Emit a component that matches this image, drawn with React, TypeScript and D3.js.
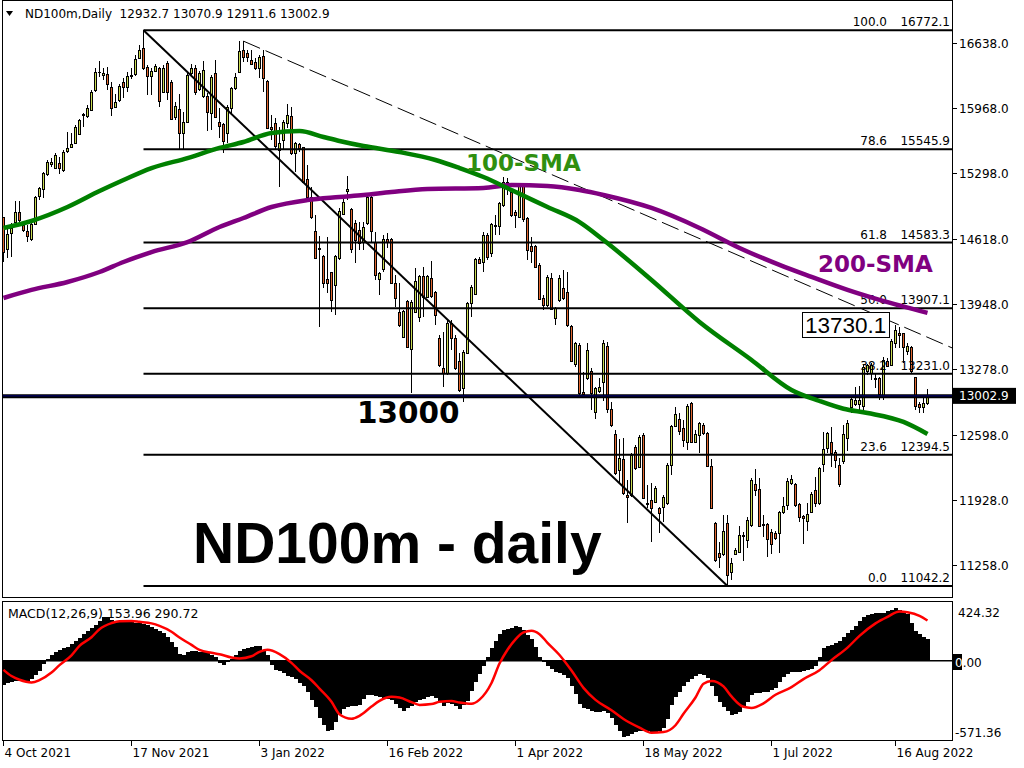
import React from "react";
import * as d3 from "d3";

// ---------- price data (daily candles, bar 0 = 4 Oct 2021) ----------
const opens = [
  14844,14517,14678,14799,14902,14764,14703,14617,14775,15067,
  15132,15287,15390,15356,15400,15332,15531,15569,15607,15703,
  15900,15892,15954,16153,16345,16311,16318,16187,15981,16050,
  16235,16184,16304,16318,16490,16593,16397,16301,16356,16387,
  16132,16431,16236,15881,15957,15710,15830,16328,16380,16167,
  16098,16095,15916,16328,15823,15806,15710,15967,16181,16345,
  16569,16535,16466,16442,16380,16507,16253,15775,15813,15538,
  15641,15820,15888,15503,15596,15565,15235,15057,14703,14524,
  14445,14204,14276,14146,14421,14878,15115,14926,14782,14713,
  14593,14782,15057,14593,14204,14308,14617,14617,14170,13871,
  13613,13981,13483,13871,13820,14239,14019,14215,14077,13596,
  13287,13235,13751,13596,13366,13080,13448,13957,14053,14411,
  14387,14661,14472,14754,14754,14971,15211,15108,14902,14844,
  15177,14833,14548,14548,14352,14008,13940,14215,13802,13991,
  14112,14077,13723,13331,13527,13039,13184,13263,12840,13056,
  13149,13520,12864,12610,12239,12349,11981,11981,12472,12266,
  12600,11902,11929,11912,11850,11854,11902,12290,12692,12761,
  12668,12531,12926,12531,12600,12703,12617,12280,11696,11379,
  11372,11689,11190,11369,11397,11565,11517,11671,12094,12043,
  11682,11678,11603,11586,11592,11802,11878,12101,12091,11885,
  11768,11713,11809,12032,11895,12300,12462,12531,12428,12290,
  12330,12565,12885,12916,12916,12898,13263,13235,13191,13184,
  13012,13366,13321,13545,13655,13648,13469,13510,13194,12919,
  12885,12932.7,
];
const highs = [
  14850,14764,14782,15012,15012,14799,14764,14782,15067,15160,
  15314,15435,15452,15503,15469,15538,15720,15710,15796,15858,
  15916,16002,16157,16380,16455,16387,16390,16242,16112,16215,
  16277,16345,16387,16517,16620,16772.1,16414,16380,16421,16397,
  16414,16455,16260,16036,16112,15926,16328,16421,16414,16352,
  16455,16122,16311,16466,15967,15813,16002,16191,16328,16662,
  16662,16569,16569,16483,16517,16569,16260,15899,15864,15778,
  15847,16009,15985,15620,15613,15572,15383,15160,14868,14651,
  14455,14644,14283,14455,14936,15039,15270,14936,14816,14799,
  14799,15064,15064,14696,14283,14662,14679,14627,14249,14163,
  13888,13991,13991,14318,14249,14335,14249,14397,14087,13630,
  13665,13785,13785,13630,13448,13476,13975,14146,14420,14438,
  14696,14685,14789,14868,15005,15263,15246,15125,14919,15194,
  15194,14850,14644,14558,14369,14043,14249,14266,13922,14249,
  14301,14283,13733,13562,13545,13252,13551,13287,13098,13184,
  13579,13560,12943,12651,12555,12565,12135,12410,12497,12600,
  12617,12084,12108,12074,11860,11981,12307,12703,12892,12823,
  12754,12919,12943,12651,12737,12727,12634,12349,11706,11500,
  11775,11775,11328,11431,11661,11603,11751,12153,12245,12153,
  11775,11688,11627,11613,11819,11964,12153,12187,12101,11895,
  11775,11895,12015,12170,12273,12634,12634,12679,12445,12359,
  12700,12754,12995,13091,13105,13321,13331,13338,13235,13194,
  13407,13390,13586,13730.1,13716,13655,13551,13517,13201,12943,
  12995,13070.9,
];
const lows = [
  14380,14421,14431,14764,14799,14696,14593,14600,14764,15022,
  15039,15270,15366,15342,15287,15314,15503,15555,15596,15692,
  15772,15871,15940,16139,16294,16260,16157,15892,15967,16036,
  16077,16139,16270,16304,16476,16363,16105,16105,16345,15985,
  16122,16053,15847,15847,15548,15548,15813,16311,16105,16146,
  16077,15734,15744,15864,15658,15503,15607,15899,16157,16328,
  16449,16449,16414,16363,16277,16139,15761,15641,15538,15160,
  15538,15761,15486,15314,15521,15194,15039,14823,14410,13716,
  14111,14060,13871,13836,14404,14868,15022,14472,14369,14507,
  14507,14765,14593,14198,14043,14283,14524,14156,13923,13716,
  13596,13493,13029,13854,13768,13820,14008,14008,13733,13304,
  13098,13218,13476,13270,13046,12943,13440,13819,14043,14362,
  14283,14404,14438,14661,14661,14954,15074,14850,14730,14833,
  14799,14404,14369,14318,13991,13888,13923,13888,13733,13974,
  13991,13716,13356,13304,13012,12995,13166,12857,12761,13029,
  12950,12830,12685,12187,12101,11981,11696,11964,12239,12256,
  11936,11843,11500,11895,11586,11706,11878,12187,12685,12600,
  12479,12445,12514,12514,12417,12600,12266,11833,11293,11225,
  11352,11042.2,11104,11362,11380,11304,11431,11654,11971,11654,
  11551,11345,11373,11514,11379,11785,11826,12084,11860,11706,
  11476,11613,11799,11860,11878,12221,12410,12273,12256,12067,
  12300,12438,12823,12899,12823,12857,13218,13166,13081,12960,
  12960,13300,13311,13493,13493,13338,13424,13242,12857,12823,
  12823,12911.6,
];
const closes = [
  14489,14668,14730,14895,14816,14713,14654,14771,15050,15143,
  15297,15411,15418,15486,15349,15514,15555,15600,15772,15847,
  15910,15967,16132,16339,16339,16328,16215,15974,16029,16198,
  16184,16301,16311,16476,16569,16380,16301,16356,16404,16043,
  16380,16139,15857,15992,15710,15830,16311,16380,16139,16335,
  16363,15933,16294,15875,15789,15634,15978,16174,16294,16562,
  16500,16493,16425,16380,16500,16277,15768,15758,15579,15607,
  15823,15899,15503,15607,15562,15211,15057,14843,14421,14513,
  14163,14163,13991,14445,14912,15005,15132,14513,14610,14582,
  14740,15050,14706,14249,14266,14617,14593,14170,14008,13733,
  13878,13510,13974,14191,14239,14026,14239,14032,13837,13321,
  13242,13751,13596,13287,13063,13458,13957,14129,14411,14369,
  14661,14438,14772,14761,14988,15211,15177,14868,14868,15177,
  14823,14507,14500,14335,13998,13940,14232,13898,13905,14215,
  14008,13733,13366,13545,13029,13018,13476,13029,13080,13098,
  13551,12864,12703,12204,12359,11998,11957,12393,12256,12575,
  11946,11888,11843,12050,11792,11964,12290,12692,12816,12644,
  12548,12899,12531,12610,12720,12624,12280,11843,11311,11338,
  11613,11156,11276,11414,11568,11558,11723,12135,12032,11661,
  11675,11524,11472,11541,11802,11867,12129,12142,11878,11757,
  11740,11785,11991,11895,12256,12452,12624,12417,12342,12094,
  12605,12727,12967,12960,12960,13304,13321,13321,13177,13022,
  13373,13311,13572,13682,13631,13510,13517,13263,12898,12885,
  12926,13002.9,
];

// ---------- moving averages ----------
const sma100Bars = [0,7,16,24,30,37,46,54,60,67,74,80,84,90,99,108,114,120,127,136,144,150,162,174,187,197,204,210,216,225,231];
const sma100Vals = [14734,14806,14950,15115,15229,15352,15455,15559,15620,15713,15734,15672,15631,15579,15517,15435,15352,15259,15125,14950,14795,14610,14198,13765,13373,13064,12950,12870,12826,12734,12610];
const sma200Bars = [0,7,16,24,30,37,46,54,60,67,76,84,90,97,106,120,127,136,144,150,162,174,184,194,202,211,219,231];
const sma200Vals = [14012,14095,14177,14280,14383,14486,14589,14744,14837,14950,15022,15053,15074,15105,15136,15146,15177,15167,15125,15074,14940,14734,14528,14353,14229,14095,13992,13858];

// ---------- MACD(12,26,9) ----------
const macdHist = [
  -176,-160,-150,-146,-144,-144,-144,-130,-105,-70,
  -25,15,45,62,78,92,103,118,140,165,
  192,214,235,258,285,315,318,295,281,281,
  281,281,280,276,272,265,258,245,232,218,
  204,175,135,100,50,40,60,72,70,67,
  62,55,42,25,-15,-30,-12,10,45,70,
  84,92,100,106,108,78,40,-30,-65,-75,
  -85,-110,-120,-132,-160,-185,-225,-280,-330,-410,
  -460,-505,-500,-440,-385,-345,-332,-329,-325,-320,
  -275,-250,-245,-257,-262,-265,-272,-280,-315,-340,
  -361,-340,-325,-300,-285,-272,-262,-252,-270,-290,
  -325,-305,-310,-325,-349,-320,-289,-215,-150,-95,
  -40,30,90,140,195,220,232,238,250,245,
  220,185,155,100,30,-5,-40,-62,-80,-90,
  -100,-125,-180,-240,-310,-338,-348,-365,-370,-370,
  -360,-380,-410,-465,-510,-550,-545,-530,-515,-505,
  -507,-510,-518,-513,-507,-485,-420,-320,-262,-225,
  -185,-155,-128,-112,-98,-100,-125,-180,-255,-300,
  -330,-365,-390,-385,-370,-335,-300,-250,-232,-232,
  -228,-222,-210,-195,-155,-120,-95,-78,-82,-80,
  -75,-68,-57,-40,30,95,110,117,128,140,
  175,200,220,250,290,315,330,337,342,342,
  342,358,370,380,370,360,340,270,217,195,
  170,153.96,
];
const signalBars = [0,2,4,7,9,12,14,17,19,22,24,27,29,32,34,37,39,42,44,47,49,52,54,57,59,62,64,66,69,72,74,77,79,82,84,87,89,92,94,97,99,102,104,107,109,112,114,117,119,122,124,126,128,130,132,134,136,139,142,145,148,152,155,159,162,165,168,170,173,175,177,180,182,185,187,190,193,197,200,204,207,211,214,218,221,224,226,229,231];
const signalVals = [-65,-110,-137,-156,-139,-85,-31,40,108,170,228,272,286,287,281,270,252,210,168,115,79,58,48,24,17,33,65,79,48,-15,-72,-140,-200,-295,-385,-418,-397,-330,-289,-260,-265,-298,-318,-312,-296,-290,-301,-310,-280,-160,-20,80,155,205,217,192,130,42,-70,-195,-282,-357,-420,-482,-519,-514,-465,-382,-265,-165,-145,-185,-257,-332,-340,-307,-245,-190,-132,-68,5,95,180,270,317,355,350,325,290.72];

// ---------- axes / annotations ----------
const priceTicks = [16638, 15968, 15298, 14618, 13948, 13278, 12598, 11928, 11258];
const dateLabels = ["4 Oct 2021", "17 Nov 2021", "3 Jan 2022", "16 Feb 2022", "1 Apr 2022", "18 May 2022", "1 Jul 2022", "16 Aug 2022"];
const dateBars = [0, 32, 64, 96, 128, 160, 192, 223];
const fibPcts = ["100.0", "78.6", "61.8", "50.0", "38.2", "23.6", "0.0"];
const fibPrices = [16772.1, 15545.9, 14583.3, 13907.1, 13231.0, 12394.5, 11042.2];
const fibStartBar = 35;
const trendBars = [35, 181];
const trendPrices = [16772.1, 11042.2];
const resistBars = [60, 223];
const resistPrices = [16660, 13750];
const macdAxis = [424.32, 0, -571.36];
const keyLevel = 13000;
const lastPrice = 13002.9;
const swingHighBar = 223;
const swingHigh = 13730.1;

const FONT = "Tahoma, 'DejaVu Sans', sans-serif";
const FONT_B = "'Liberation Sans', Arial, sans-serif";
const BULL = "#cadb52";
const BEAR = "#e0662f";

export default function App() {
  const L = 2, R = 952, mainTop = 0, mainBot = 597, macdTop = 601, macdBot = 740;
  const x = d3.scaleLinear().domain([0, 231]).range([3.5, 927.5]);
  const y = d3.scaleLinear().domain([11258, 16638]).range([565.1, 43.3]);
  const ym = d3.scaleLinear().domain([-571.36, 424.32]).range([740, 602]);
  const xInv = x.invert(R);

  const lineP = d3.line<[number, number]>().x((d) => x(d[0])).y((d) => y(d[1])).curve(d3.curveMonotoneX);
  const lineM = d3.line<[number, number]>().x((d) => x(d[0])).y((d) => ym(d[1])).curve(d3.curveMonotoneX);

  const sma100 = sma100Bars.map((b, i) => [b, sma100Vals[i]] as [number, number]);
  const sma200 = sma200Bars.map((b, i) => [b, sma200Vals[i]] as [number, number]);
  const signal = signalBars.map((b, i) => [b, signalVals[i]] as [number, number]);

  const slope = (resistPrices[1] - resistPrices[0]) / (resistBars[1] - resistBars[0]);
  const resistEnd = resistPrices[0] + slope * (xInv - resistBars[0]);

  const boxR = x(swingHighBar) - 6.5;
  const boxL = boxR - 87;
  const boxCy = y(swingHigh);
  const zeroTxt = macdAxis[1].toFixed(2);

  return (
    <div style={{ position: "absolute", left: 0, top: 0 }}>
      <svg width={1024} height={768} style={{ display: "block", background: "#fff" }}>
        <defs>
          <clipPath id="mainClip"><rect x={L} y={mainTop} width={R - L} height={mainBot - mainTop} /></clipPath>
          <clipPath id="macdClip"><rect x={L} y={macdTop} width={R - L} height={macdBot - macdTop} /></clipPath>
        </defs>

        {/* ===== main panel ===== */}
        <g clipPath="url(#mainClip)">
          {/* candles */}
          {opens.map((o, i) => {
            const c = closes[i];
            const cx = x(i);
            const top = Math.round(y(Math.max(o, c))) + 0.5;
            const bot = Math.round(y(Math.min(o, c))) + 0.5;
            const col = c >= o ? BULL : BEAR;
            return (
              <g key={i} shapeRendering="crispEdges">
                <line x1={cx} x2={cx} y1={y(highs[i])} y2={y(lows[i])} stroke="#000" strokeWidth={1} />
                {bot - top >= 1 ? (
                  <rect x={cx - 1} y={top} width={2} height={bot - top} fill={col} stroke="#000" strokeWidth={1} />
                ) : (
                  <line x1={cx - 1.5} x2={cx + 1.5} y1={top} y2={top} stroke="#000" strokeWidth={1} />
                )}
              </g>
            );
          })}

          {/* fibonacci levels */}
          {fibPrices.map((p, i) => (
            <line key={"f" + i} x1={x(fibStartBar)} x2={R} y1={y(p)} y2={y(p)} stroke="#000" strokeWidth={2} />
          ))}
          {fibPrices.map((p, i) => (
            <g key={"ft" + i} fontFamily={FONT} fontSize={12} fill="#000">
              <text x={887} y={y(p) - 4} textAnchor="end">{fibPcts[i]}</text>
              <text x={950} y={y(p) - 4} textAnchor="end">{p.toFixed(1)}</text>
            </g>
          ))}

          {/* fib diagonal */}
          <line x1={x(trendBars[0])} y1={y(trendPrices[0])} x2={x(trendBars[1])} y2={y(trendPrices[1])} stroke="#000" strokeWidth={2} />
          {/* dashed resistance */}
          <line x1={x(resistBars[0])} y1={y(resistPrices[0])} x2={R} y2={y(resistEnd)} stroke="#000" strokeWidth={1} strokeDasharray="18,6" />

          {/* 13000 key level + bid line */}
          <line x1={L} x2={R} y1={y(keyLevel)} y2={y(keyLevel)} stroke="#000" strokeWidth={4} />
          <line x1={L} x2={R} y1={y(lastPrice)} y2={y(lastPrice)} stroke="#00007a" strokeWidth={1} />

          {/* moving averages */}
          <path d={lineP(sma200) || ""} fill="none" stroke="#800080" strokeWidth={4.5} />
          <path d={lineP(sma100) || ""} fill="none" stroke="#008000" strokeWidth={4.5} />

          {/* text annotations */}
          <text x={466} y={171} fontFamily={"'DejaVu Sans', sans-serif"} fontWeight="bold" fontSize={23} fill="#2f8f10">100-SMA</text>
          <text x={818} y={272} fontFamily={"'DejaVu Sans', sans-serif"} fontWeight="bold" fontSize={23} fill="#800080">200-SMA</text>
          <text x={357} y={423} fontFamily={"'DejaVu Sans', sans-serif"} fontWeight="bold" fontSize={29.5} fill="#000">13000</text>
          <text x={193} y={563} fontFamily={FONT_B} fontWeight="bold" fontSize={57} fill="#000">ND100m - daily</text>

          <rect x={boxL + 0.5} y={Math.round(boxCy - 13) + 0.5} width={boxR - boxL} height={25} fill="#fff" stroke="#000" strokeWidth={1} />
          <text x={boxL + 3} y={boxCy + 8} fontFamily={FONT_B} fontSize={22.5} fill="#000">{swingHigh.toFixed(1)}</text>
        </g>

        {/* header */}
        <polygon points="6,11 13,11 9.5,16" fill="#000" />
        <text x={25} y={18} fontFamily={FONT} fontSize={12} fill="#000" style={{ whiteSpace: "pre" }}>
          {`ND100m,Daily  ${opens[231].toFixed(1)} ${highs[231].toFixed(1)} ${lows[231].toFixed(1)} ${closes[231].toFixed(1)}`}
        </text>

        {/* frames */}
        <rect x={L + 0.5} y={mainTop + 0.5} width={R - L} height={mainBot - mainTop} fill="none" stroke="#000" strokeWidth={1} shapeRendering="crispEdges" />
        <rect x={L + 0.5} y={macdTop + 0.5} width={R - L} height={macdBot - macdTop} fill="none" stroke="#000" strokeWidth={1} shapeRendering="crispEdges" />

        {/* price axis */}
        {priceTicks.map((t) => (
          <g key={t}>
            <line x1={R} x2={R + 5} y1={Math.round(y(t)) + 0.5} y2={Math.round(y(t)) + 0.5} stroke="#000" shapeRendering="crispEdges" />
            <text x={959} y={y(t) + 4.5} fontFamily={FONT} fontSize={12} fill="#000">{t.toFixed(1)}</text>
          </g>
        ))}
        <rect x={R} y={y(lastPrice) - 8} width={64} height={16} fill="#000" />
        <text x={959} y={y(lastPrice) + 4.5} fontFamily={FONT} fontSize={12} fill="#fff">{lastPrice.toFixed(1)}</text>

        {/* ===== MACD panel ===== */}
        <g clipPath="url(#macdClip)">
          {macdHist.map((v, i) => (
            <rect key={i} x={x(i) - 2} y={ym(Math.max(v, 0))} width={4} height={Math.abs(ym(v) - ym(0))} fill="#000" shapeRendering="crispEdges" />
          ))}
          <line x1={L} x2={R} y1={ym(0)} y2={ym(0)} stroke="#000" strokeWidth={1.5} />
          <path d={lineM(signal) || ""} fill="none" stroke="#ff0000" strokeWidth={2.5} />
        </g>
        <text x={8} y={618} fontFamily={FONT} fontSize={12.5} fill="#000">
          {`MACD(12,26,9) ${macdHist[231].toFixed(2)} ${signalVals[signalVals.length - 1].toFixed(2)}`}
        </text>
        <text x={958} y={617} fontFamily={FONT} fontSize={12} fill="#000">{macdAxis[0].toFixed(2)}</text>
        <rect x={R} y={654} width={10} height={16} fill="#000" />
        <text x={955} y={666.5} fontFamily={FONT} fontSize={12} fill="#000">
          <tspan fill="#fff">{zeroTxt.slice(0, 1)}</tspan>
          <tspan>{zeroTxt.slice(1)}</tspan>
        </text>
        <text x={955} y={737} fontFamily={FONT} fontSize={12} fill="#000">{macdAxis[2].toFixed(2)}</text>

        {/* date axis */}
        {dateBars.map((b, i) => (
          <g key={b}>
            <line x1={Math.round(x(b)) - 0.5} x2={Math.round(x(b)) - 0.5} y1={macdBot} y2={macdBot + 6} stroke="#000" shapeRendering="crispEdges" />
            <text x={x(b) + 1} y={757} fontFamily={FONT} fontSize={12} fill="#000">{dateLabels[i]}</text>
          </g>
        ))}
      </svg>
    </div>
  );
}
